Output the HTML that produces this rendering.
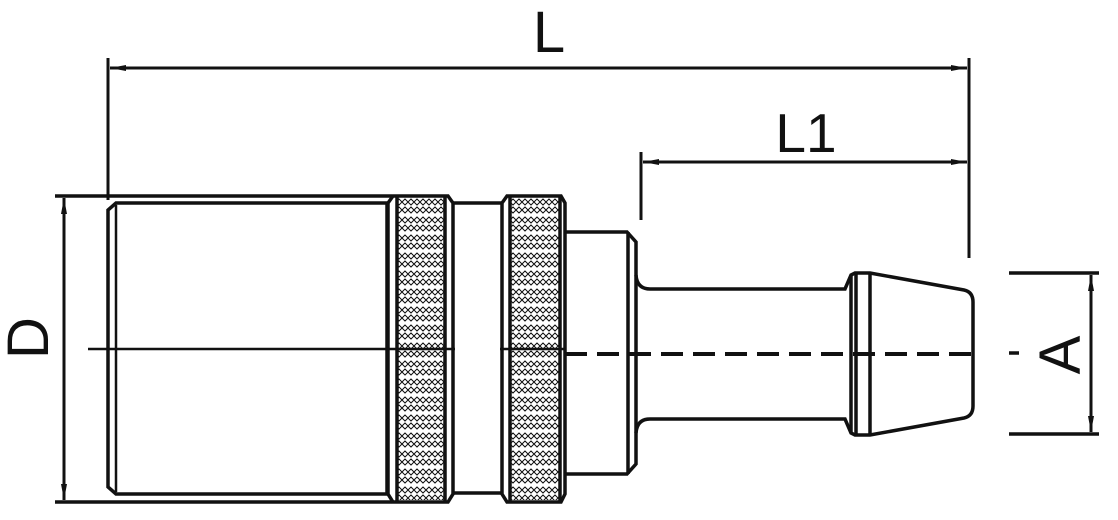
<!DOCTYPE html>
<html><head><style>body{margin:0;background:#fff}svg{display:block}</style></head><body>
<svg width="1118" height="520" viewBox="0 0 1118 520" xmlns="http://www.w3.org/2000/svg">
<defs>
<pattern id="k" x="0" y="0" width="12" height="18" patternUnits="userSpaceOnUse">
<path d="M0 4 L3 1 L6 4 L9 1 L12 4 M0 4 L3 7 L6 4 L9 7 L12 4 M0 12 L3 9 L6 12 L9 9 L12 12 M0 12 L3 15 L6 12 L9 15 L12 12" fill="none" stroke="#111" stroke-width="1"/>
</pattern>
<marker id="ar" markerWidth="16" markerHeight="8" refX="16" refY="4" orient="auto" markerUnits="userSpaceOnUse"><path d="M0 1 L16 4 L0 7 Z" fill="#111"/></marker>
<marker id="al" markerWidth="16" markerHeight="8" refX="0" refY="4" orient="auto" markerUnits="userSpaceOnUse"><path d="M16 1 L0 4 L16 7 Z" fill="#111"/></marker>
</defs>
<g stroke="#111" fill="none" stroke-width="3.5">
<line x1="108" y1="58" x2="108" y2="200" stroke-width="3"/>
<line x1="969" y1="58" x2="969" y2="258" stroke-width="3"/>
<line x1="110" y1="68" x2="967" y2="68" stroke-width="3" marker-start="url(#al)" marker-end="url(#ar)"/>
<line x1="641" y1="152" x2="641" y2="220" stroke-width="3"/>
<line x1="643" y1="162" x2="967" y2="162" stroke-width="3" marker-start="url(#al)" marker-end="url(#ar)"/>
<line x1="55" y1="196" x2="392" y2="196"/>
<line x1="55" y1="502" x2="392" y2="502"/>
<line x1="64" y1="198" x2="64" y2="500" stroke-width="3" marker-start="url(#al)" marker-end="url(#ar)"/>
<line x1="1009" y1="273" x2="1099" y2="273"/>
<line x1="1009" y1="434" x2="1099" y2="434"/>
<line x1="1091" y1="275" x2="1091" y2="432" stroke-width="3" marker-start="url(#al)" marker-end="url(#ar)"/>
<line x1="1009" y1="353" x2="1019" y2="353"/>
<path d="M116 203 L387 203 L387 494 L116 494 L108 487 L108 210 Z"/>
<line x1="116" y1="205" x2="116" y2="492" stroke-width="2.5"/>
<rect x="397" y="198" width="48" height="302" fill="url(#k)" stroke="none"/>
<path d="M393 196 L448 196 L453 203 L453 494 L448 502 L393 502 L388 494 L388 203 Z"/>
<line x1="397" y1="196" x2="397" y2="502"/>
<line x1="445" y1="196" x2="445" y2="502"/>
<line x1="453" y1="203" x2="503" y2="203"/>
<line x1="453" y1="493" x2="503" y2="493"/>
<rect x="510" y="198" width="50" height="302" fill="url(#k)" stroke="none"/>
<path d="M507 196 L561 196 L565 203 L565 494 L561 502 L507 502 L502 494 L502 203 Z"/>
<line x1="510" y1="196" x2="510" y2="502"/>
<line x1="560" y1="196" x2="560" y2="502"/>
<path d="M565 232 L627 232 L636 242 L636 464 L627 474 L565 474"/>
<line x1="628" y1="232" x2="628" y2="474"/>
<path d="M636 275 Q637 289 650 289 L845 289 L851 275 L855 273 L870 273 L964 290 Q973 292 973 302 L973 406 Q973 416 964 418 L870 435 L855 435 L851 433 L845 419 L650 419 Q637 419 636 433"/>
<line x1="851" y1="275" x2="851" y2="433"/>
<line x1="856" y1="273" x2="856" y2="435"/>
<line x1="870" y1="273" x2="870" y2="435"/>
<line x1="88" y1="349" x2="455" y2="349" stroke-width="2.5"/>
<line x1="500" y1="349" x2="565" y2="349" stroke-width="2.5"/>
<line x1="565" y1="354" x2="973" y2="354" stroke-dasharray="22 10" stroke-width="4"/>
</g>
<g font-family="Liberation Sans, sans-serif" fill="#111">
<text x="549" y="52" font-size="58" text-anchor="middle">L</text>
<text x="806" y="152" font-size="55" text-anchor="middle">L1</text>
<text transform="translate(48,338) rotate(-90)" font-size="58" text-anchor="middle">D</text>
<text transform="translate(1080,355) rotate(-90)" font-size="58" text-anchor="middle">A</text>
</g>
</svg>
</body></html>
